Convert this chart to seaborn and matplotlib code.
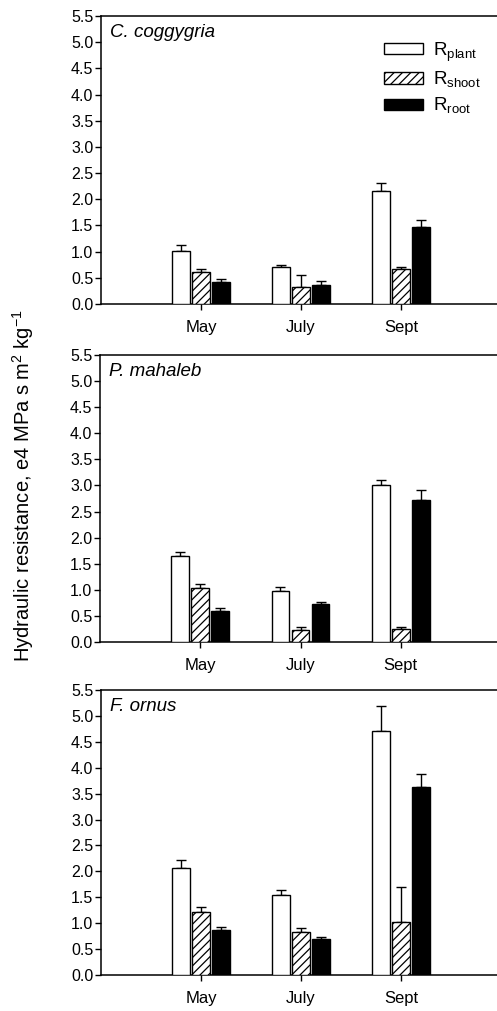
import numpy as np
import pandas as pd
import matplotlib
matplotlib.use("Agg")
import matplotlib.pyplot as plt
from matplotlib.patches import Patch
import seaborn as sns

# Sampling months and resistance components
months = ["May", "July", "Sept"]
components = ["plant", "shoot", "root"]
species = ["C. coggygria", "P. mahaleb", "F. ornus"]

# Mean hydraulic resistance (e4 MPa s m2 kg-1) and standard errors
cc_plant = [1.02, 0.70, 2.16]
cc_shoot = [0.61, 0.32, 0.66]
cc_root = [0.42, 0.37, 1.48]
cc_plant_se = [0.11, 0.05, 0.15]
cc_shoot_se = [0.05, 0.23, 0.05]
cc_root_se = [0.05, 0.06, 0.12]

pm_plant = [1.64, 0.98, 3.00]
pm_shoot = [1.04, 0.23, 0.24]
pm_root = [0.59, 0.72, 2.72]
pm_plant_se = [0.09, 0.08, 0.10]
pm_shoot_se = [0.07, 0.05, 0.05]
pm_root_se = [0.06, 0.05, 0.19]

fo_plant = [2.07, 1.55, 4.70]
fo_shoot = [1.21, 0.83, 1.03]
fo_root = [0.87, 0.69, 3.63]
fo_plant_se = [0.14, 0.09, 0.50]
fo_shoot_se = [0.11, 0.07, 0.66]
fo_root_se = [0.05, 0.05, 0.24]

means = {
    "C. coggygria": [cc_plant, cc_shoot, cc_root],
    "P. mahaleb": [pm_plant, pm_shoot, pm_root],
    "F. ornus": [fo_plant, fo_shoot, fo_root],
}
errors = {
    "C. coggygria": [cc_plant_se, cc_shoot_se, cc_root_se],
    "P. mahaleb": [pm_plant_se, pm_shoot_se, pm_root_se],
    "F. ornus": [fo_plant_se, fo_shoot_se, fo_root_se],
}

sns.set_style("ticks")
plt.rcParams["font.family"] = ["Liberation Sans", "DejaVu Sans"]
plt.rcParams["text.color"] = "black"
plt.rcParams["axes.labelcolor"] = "black"
plt.rcParams["hatch.linewidth"] = 0.9

W, H = 497, 1011
fig = plt.figure(figsize=(W / 100, H / 100), dpi=100)

# axes boxes in pixels: (left, top, bottom)
boxes = [(101, 16, 304), (100, 355, 642), (101, 690, 975)]
right_px = 501

palette = {"plant": "white", "shoot": "white", "root": "black"}

for sp, (lpx, tpx, bpx) in zip(species, boxes):
    ax = fig.add_axes([lpx / W, 1 - bpx / H, (right_px - lpx) / W, (bpx - tpx) / H])
    rows = []
    for comp, vals, errs in zip(components, means[sp], errors[sp]):
        for m, v, e in zip(months, vals, errs):
            rows.append({"month": m, "component": comp, "value": v, "se": e})
    df = pd.DataFrame(rows)

    sns.barplot(data=df, x="month", y="value", hue="component",
                order=months, hue_order=components, palette=palette,
                edgecolor="black", linewidth=1.0, width=0.6, gap=0.12,
                saturation=1, errorbar=None, legend=False, ax=ax, zorder=3)

    for comp, cont in zip(components, ax.containers):
        sub = df[df["component"] == comp].set_index("month").loc[months]
        xs = [p.get_x() + p.get_width() / 2 for p in cont.patches]
        ys = sub["value"].values
        es = sub["se"].values
        ax.errorbar(xs, ys, yerr=[np.zeros_like(es), es], fmt="none",
                    ecolor="black", elinewidth=1.0, capsize=3.5,
                    capthick=1.0, zorder=2)
        if comp == "shoot":
            for p in cont.patches:
                p.set_hatch("////")

    ax.set_xlim(-1, 3)
    ax.set_ylim(0, 5.5)
    ax.set_yticks(np.arange(0, 5.51, 0.5))
    ax.set_yticklabels([f"{t:.1f}" for t in np.arange(0, 5.51, 0.5)])
    ax.set_xlabel("")
    ax.set_ylabel("")
    ax.tick_params(axis="y", direction="out", length=4.5, width=1, pad=1,
                   labelsize=11.5, colors="black")
    ax.tick_params(axis="x", direction="out", length=4.5, width=1, pad=7,
                   labelsize=12, colors="black")
    for s in ["left", "top", "bottom"]:
        ax.spines[s].set_linewidth(1.1)
        ax.spines[s].set_color("black")
    ax.spines["right"].set_visible(False)
    ax.text(0.022, 0.972, sp, transform=ax.transAxes, ha="left", va="top",
            fontsize=13.5, style="italic")

    if sp == "C. coggygria":
        handles = [
            Patch(facecolor="white", edgecolor="black", linewidth=1,
                  label=r"R$_\mathregular{plant}$"),
            Patch(facecolor="white", edgecolor="black", linewidth=1,
                  hatch="////", label=r"R$_\mathregular{shoot}$"),
            Patch(facecolor="black", edgecolor="black", linewidth=1,
                  label=r"R$_\mathregular{root}$"),
        ]
        ax.legend(handles=handles, loc="upper left",
                  bbox_to_anchor=((384 - lpx) / (right_px - lpx), 1 - (40 - tpx) / (bpx - tpx)),
                  frameon=False, borderpad=0, borderaxespad=0,
                  handlelength=2.1, handleheight=0.55, handletextpad=0.5,
                  labelspacing=0.33, fontsize=13.5)

fig.text(23 / W, 1 - 486 / H,
         r"Hydraulic resistance, e4 MPa s m$^\mathregular{2}$ kg$^\mathregular{-1}$",
         rotation=90, ha="center", va="center", fontsize=14.5)

fig.savefig("out.png", dpi=100)
